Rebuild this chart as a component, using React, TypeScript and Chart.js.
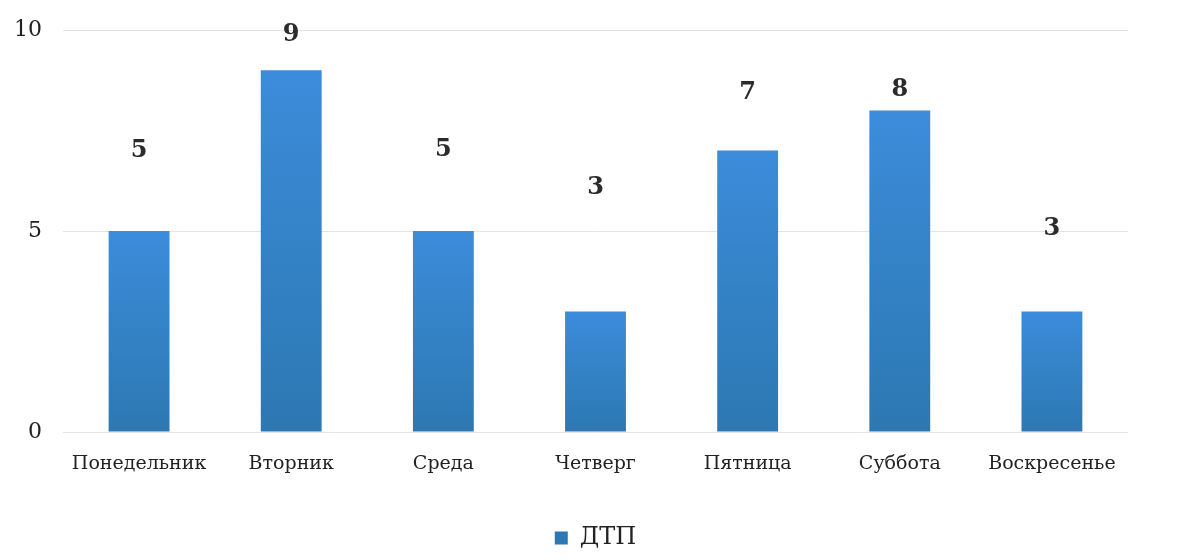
import React, { useEffect, useRef } from "react";
import { Chart, registerables } from "chart.js";

Chart.register(...registerables);

const categories = ["Понедельник", "Вторник", "Среда", "Четверг", "Пятница", "Суббота", "Воскресенье"];
const seriesName = "ДТП";
const values = [5, 9, 5, 3, 7, 8, 3];
const yTicks = [0, 5, 10];
// vertical gap (px) between bar top and its value label, as drawn in the reference
const labelGaps = [80, 35, 81, 124, 58, 21, 83];

const FONT = "'DejaVu Serif', 'Liberation Serif', serif";

const valueLabels = {
  id: "valueLabels",
  afterDatasetsDraw(chart: any) {
    const { ctx } = chart;
    const meta = chart.getDatasetMeta(0);
    ctx.save();
    ctx.font = `bold 24px ${FONT}`;
    ctx.fillStyle = "#2b2b2b";
    ctx.textAlign = "center";
    ctx.textBaseline = "middle";
    meta.data.forEach((bar: any, i: number) => {
      ctx.fillText(String(values[i]), bar.x, bar.y - labelGaps[i]);
    });
    ctx.restore();
  },
};

// centre the legend under the whole canvas rather than the padded box
const legendShift = {
  id: "legendShift",
  afterLayout(chart: any) {
    if (chart.legend) {
      chart.legend.left += 55;
    }
  },
};

export default function App() {
  const ref = useRef<HTMLCanvasElement | null>(null);

  useEffect(() => {
    if (!ref.current) return;
    const chart = new Chart(ref.current, {
      type: "bar",
      data: {
        labels: categories,
        datasets: [
          {
            label: seriesName,
            data: values,
            backgroundColor: (c: any) => {
              const ch = c.chart;
              const s = ch.scales?.y;
              if (!s || c.type !== "data") return "#3584c8";
              const top = s.getPixelForValue(c.raw);
              const bottom = s.getPixelForValue(0);
              if (!isFinite(top) || !isFinite(bottom) || top === bottom) return "#3584c8";
              const g = ch.ctx.createLinearGradient(0, top, 0, bottom);
              g.addColorStop(0, "#3b8cda");
              g.addColorStop(1, "#2d78b2");
              return g;
            },
            borderWidth: 0,
            categoryPercentage: 1,
            barPercentage: 0.4,
          },
        ],
      },
      options: {
        animation: false,
        responsive: true,
        maintainAspectRatio: false,
        layout: { padding: { left: 8, right: 53, top: 30, bottom: 0 } },
        scales: {
          x: {
            grid: { display: false, drawTicks: false },
            border: { display: false },
            ticks: { color: "#222", font: { family: FONT, size: 19 }, padding: 21 },
            afterFit: (s: any) => {
              s.height = 88;
              s.paddingLeft = 0;
              s.paddingRight = 0;
            },
          },
          y: {
            min: 0,
            max: 10,
            afterBuildTicks: (s: any) => {
              s.ticks = yTicks.map((v) => ({ value: v }));
            },
            grid: { color: "#e4e4e4", drawTicks: false, lineWidth: 1 },
            border: { display: false },
            ticks: { color: "#222", font: { family: FONT, size: 22 }, padding: 21 },
            afterFit: (s: any) => {
              s.width = 55;
              s.paddingTop = 0;
              s.paddingBottom = 0;
            },
          },
        },
        plugins: {
          legend: {
            position: "bottom",
            labels: {
              color: "#222",
              font: { family: FONT, size: 24 },
              boxWidth: 13,
              boxHeight: 13,
              padding: 6,
            },
          },
          tooltip: { enabled: false },
        },
      },
      plugins: [valueLabels, legendShift],
    });
    return () => chart.destroy();
  }, []);

  return (
    <div style={{ position: "absolute", left: 0, top: 0, width: 1181, height: 560, background: "#fff" }}>
      <canvas ref={ref} />
    </div>
  );
}
